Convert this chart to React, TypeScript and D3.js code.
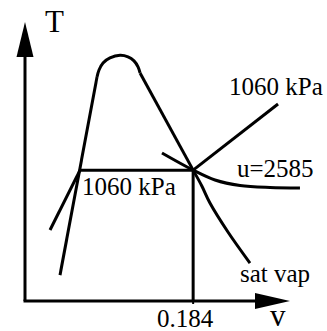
import React from "react";
import * as d3 from "d3";

type P = [number, number]; // [v, T]

// Saturation dome (schematic), v in m3/kg, T in deg C
const domeLeft: P[] = [[0.0383, 36], [0.0788, 311.5]];
const domeTop: P[] = [
  [0.0788, 311.5], [0.081, 321.2], [0.0854, 331], [0.0930, 338], [0.1040, 341.7],
  [0.1127, 339.6], [0.1193, 334], [0.1237, 325.6], [0.1259, 317.1],
];
const domeRight: P[] = [[0.1259, 317.1], [0.184, 182]];
const satVap: P[] = [[0.184, 182], [0.1935, 160], [0.2024, 136.3], [0.2221, 96], [0.2462, 52.8]];
const liquidLine: P[] = [[0.0274, 98.7], [0.0602, 182]];
const isobarMix: P[] = [[0.0602, 182], [0.184, 182]];
const isobarVap: P[] = [[0.184, 182], [0.2769, 274]];
const uLine: P[] = [[0.1499, 205.8], [0.184, 182], [0.2079, 168.3], [0.2353, 160.6], [0.2681, 157.8], [0.3009, 157.1]];
const stateV = [0.184];
const stateT = [182];
const tickLabels = ["0.184"];
const labels = ["1060 kPa", "1060 kPa", "u=2585", "sat vap"];

const W = 327, H = 331;
const x = d3.scaleLinear().domain([0, 0.29]).range([25, 290]);
const y = d3.scaleLinear().domain([0, 388]).range([301, 22]);

const lin = d3.line<P>().x(d => x(d[0])).y(d => y(d[1]));
const smooth = d3.line<P>().x(d => x(d[0])).y(d => y(d[1])).curve(d3.curveCatmullRom.alpha(0.5));

export default function App() {
  const sw = 3;
  const x0 = x(0), y0 = y(0), xEnd = x(0.29), yEnd = y(388);
  const sv = stateV[0], st = stateT[0];
  return (
    <svg width={W} height={H} style={{ position: "absolute", left: 0, top: 0, background: "#fff" }}>
      <rect width={W} height={H} fill="#fff" />
      {/* axes */}
      <line x1={x0} y1={y0} x2={x0} y2={yEnd + 34} stroke="#000" strokeWidth={sw} />
      <polygon points={`${x0},${yEnd} ${x0 - 8.5},${yEnd + 35} ${x0 + 8.5},${yEnd + 35}`} fill="#000" />
      <line x1={x0 - 1.5} y1={y0} x2={xEnd - 34} y2={y0} stroke="#000" strokeWidth={sw} />
      <polygon points={`${xEnd},${y0} ${xEnd - 35},${y0 - 8} ${xEnd - 35},${y0 + 8}`} fill="#000" />
      <line x1={x(sv)} y1={y0} x2={x(sv)} y2={y0 + 3} stroke="#000" strokeWidth={2} />
      <g fill="none" stroke="#000" strokeWidth={sw} strokeLinejoin="round">
        <path d={lin(domeLeft) || ""} />
        <path d={smooth(domeTop) || ""} />
        <path d={lin(domeRight) || ""} />
        <path d={smooth(satVap) || ""} />
        <path d={lin(liquidLine) || ""} />
        <path d={lin(isobarMix) || ""} />
        <path d={lin(isobarVap) || ""} />
        <path d={smooth(uLine) || ""} />
        <line x1={x(sv)} y1={y(st)} x2={x(sv)} y2={y0} />
      </g>
      <g fill="#000" fontFamily="Liberation Serif">
        <text x={45} y={32} fontSize={31}>T</text>
        <text x={270} y={326} fontSize={31}>v</text>
        <text x={157} y={327} fontSize={25}>{tickLabels[0]}</text>
        <text x={229} y={95} fontSize={25}>{labels[0]}</text>
        <text x={82} y={195} fontSize={25}>{labels[1]}</text>
        <text x={237} y={177} fontSize={25}>{labels[2]}</text>
        <text x={240} y={282} fontSize={25}>{labels[3]}</text>
      </g>
    </svg>
  );
}
